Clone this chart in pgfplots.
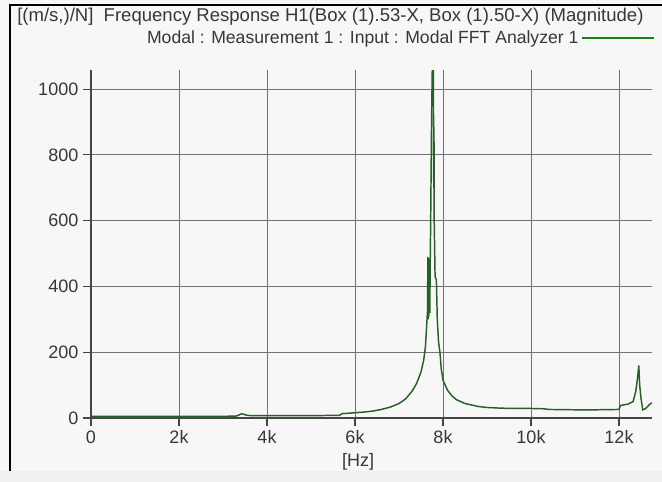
\documentclass[border=0pt]{standalone}
\usepackage{fontspec}
\setmainfont{Liberation Sans}
\usepackage{pgfplots}
\pgfplotsset{compat=1.18}
\definecolor{bgc}{RGB}{247,247,247}
\definecolor{gridc}{RGB}{115,115,115}
\definecolor{axc}{RGB}{70,70,70}
\definecolor{txt}{RGB}{55,55,55}
\definecolor{curve}{RGB}{40,95,40}
\definecolor{legc}{RGB}{20,130,20}
\pgfplotstableread{
f v
0 5
500 5
1000 5
1500 5
2000 5
2500 5
3000 5
3300 6
3380 10
3420 13
3480 11
3550 8
3700 7
4000 7
4500 7
5000 7
5500 8
5650 8
5700 13
5800 14
6000 16
6200 18
6400 21
6600 26
6800 33
7000 44
7150 58
7300 82
7400 105
7500 140
7560 175
7600 215
7620 260
7640 307
7650 300
7655 490
7660 310
7665 480
7670 300
7675 485
7680 310
7690 470
7700 320
7710 480
7720 600
7740 900
7760 1100
7780 1100
7790 700
7795 885
7800 600
7820 430
7850 420
7870 300
7900 230
7930 200
7960 150
8000 115
8100 85
8200 68
8300 56
8500 44
8800 35
9000 32
9300 30
9600 29
10000 29
10300 28
10400 26
11000 25
11500 25
12000 26
12030 38
12200 42
12320 50
12380 80
12420 120
12450 160
12470 100
12500 60
12540 25
12600 28
12700 42
12750 46
}\datatable
\begin{document}
\begin{tikzpicture}[x=0.75pt,y=-0.75pt]
\useasboundingbox (0,0) rectangle (662,482);
\fill[bgc] (0,0) rectangle (662,482);
\fill[gray!12] (0,471) rectangle (662,482);
\draw[black, line width=1.2pt] (10,471) -- (10,5) -- (662,5);
\node[anchor=west, font=\fontsize{13.9}{16}\selectfont, text=txt, inner sep=0pt] at (17,17) {[(m/s,)/N]\ \ Frequency Response H1(Box (1).53-X, Box (1).50-X) (Magnitude)};
\begin{axis}[
  at={(68.25pt,-313.5pt)}, anchor=south west,
  scale only axis, width=420.75pt, height=261pt,
  xmin=0, xmax=12750, ymin=0, ymax=1058,
  scaled x ticks=false, scaled y ticks=false,
  axis x line*=bottom, axis y line*=left,
  axis line style={axc, line width=1pt},
  tick align=outside,
  major tick length=6pt,
  tick style={axc, line width=0.8pt},
  grid=major,
  major grid style={gridc, line width=0.75pt},
  xtick={0,2000,4000,6000,8000,10000,12000},
  xticklabels={0,2k,4k,6k,8k,10k,12k},
  ytick={0,200,400,600,800,1000},
  yticklabels={0,200,400,600,800,1000},
  /pgf/number format/assume math mode=true,
  tick label style={font=\fontsize{13.5}{16}\selectfont, text=txt},
  xlabel={[Hz]},
  xlabel style={font=\fontsize{13.5}{16}\selectfont, text=txt, at={(axis description cs:0.476,0)}, anchor=center, yshift=-33pt},
  legend style={draw=none, fill=none, at={(1.005,1.092)}, anchor=east, font=\fontsize{13.2}{16}\selectfont, text=txt, inner sep=0pt},
  legend plot pos=right,
  legend image code/.code={\draw[legc, line width=1pt] (0cm,0cm) -- (1.9cm,0cm);},
]
\addplot[curve, line width=1.1pt] table[x=f, y=v] {\datatable};
\addlegendentry{Modal : Measurement 1 : Input : Modal FFT Analyzer 1}
\end{axis}
\end{tikzpicture}
\end{document}
